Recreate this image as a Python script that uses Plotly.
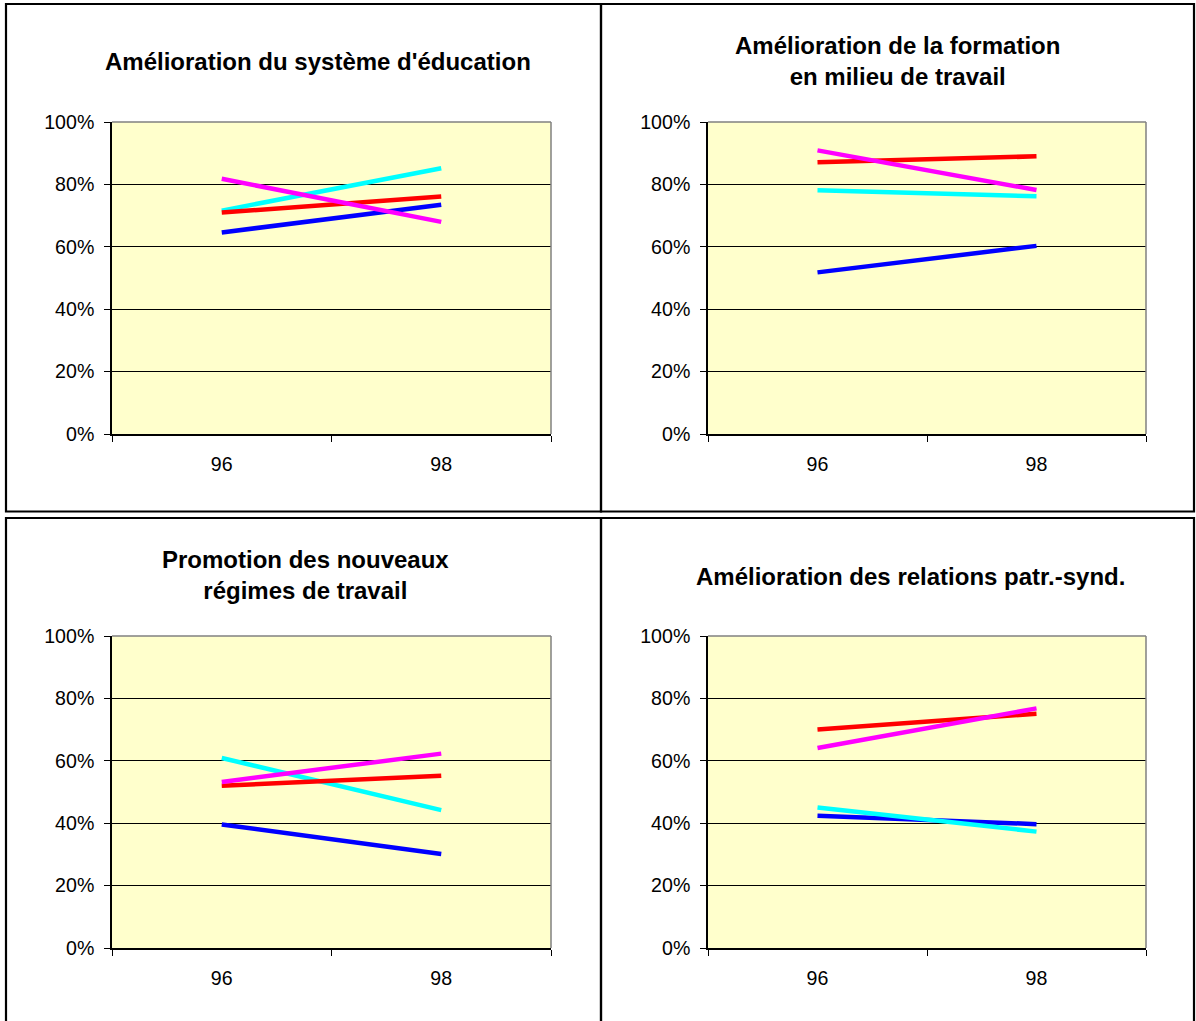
import plotly.graph_objects as go

W, H = 1196, 1021

years = ["96", "98"]

titles = [
    "Amélioration du système d'éducation",
    "Amélioration de la formation<br>en milieu de travail",
    "Promotion des nouveaux<br>régimes de travail",
    "Amélioration des relations patr.-synd.",
]

# series values per panel (fractions)
blue_vals = [[0.646, 0.735], [0.518, 0.603], [0.396, 0.301], [0.424, 0.397]]
cyan_vals = [[0.716, 0.852], [0.781, 0.762], [0.609, 0.442], [0.450, 0.373]]
red_vals = [[0.710, 0.761], [0.871, 0.890], [0.520, 0.552], [0.700, 0.751]]
magenta_vals = [[0.818, 0.680], [0.909, 0.782], [0.532, 0.623], [0.641, 0.768]]

series = [
    ("Série 1", "#0000FF", blue_vals),
    ("Série 2", "#00FFFF", cyan_vals),
    ("Série 3", "#FF0000", red_vals),
    ("Série 4", "#FF00FF", magenta_vals),
]

y_ticks = [0, 0.2, 0.4, 0.6, 0.8, 1.0]

# layout geometry in pixels
plot_x = [(112, 551), (708, 1146), (112, 551), (708, 1146)]
plot_y = [(122, 434), (122, 434), (636, 948), (636, 948)]
title_pos = [(318, 62), (897, 61), (305, 575), (910, 576)]


def px(x):
    return x / W


def py(y):
    return 1 - y / H


fig = go.Figure()

for i in range(4):
    sx = "" if i == 0 else str(i + 1)
    for name, color, vals in series:
        fig.add_trace(go.Scatter(
            x=years, y=vals[i], mode="lines", name=name,
            line=dict(color=color, width=4.5),
            xaxis="x" + sx, yaxis="y" + sx, showlegend=False,
        ))
    xd = [px(plot_x[i][0]), px(plot_x[i][1])]
    yd = [py(plot_y[i][1]), py(plot_y[i][0])]
    fig.layout["xaxis" + sx] = dict(
        domain=xd, anchor="y" + sx, type="category",
        categoryorder="array", categoryarray=years,
        range=[-0.5, 1.5], tickson="boundaries",
        ticks="outside", ticklen=6, tickcolor="black", tickwidth=1,
        showline=True, linecolor="black", linewidth=1.5,
        showgrid=False, zeroline=False, fixedrange=True, automargin=False,
        tickfont=dict(family="Liberation Sans, Arial", size=19.6, color="black"),
        ticklabelstandoff=12,
    )
    fig.layout["yaxis" + sx] = dict(
        domain=yd, anchor="x" + sx, range=[0, 1],
        tickvals=y_ticks, tickformat=".0%",
        ticks="outside", ticklen=6, tickcolor="black", tickwidth=1,
        showline=True, linecolor="black", linewidth=1.5,
        showgrid=True, gridcolor="black", gridwidth=1,
        zeroline=False, fixedrange=True, automargin=False,
        tickfont=dict(family="Liberation Sans, Arial", size=19.6, color="black"),
        ticklabelstandoff=6,
    )
    # gray top/right plot-area border
    fig.add_shape(type="line", xref="paper", yref="paper",
                  x0=xd[0], x1=xd[1], y0=yd[1], y1=yd[1],
                  line=dict(color="#808080", width=1.5), layer="above")
    fig.add_shape(type="line", xref="paper", yref="paper",
                  x0=xd[1], x1=xd[1], y0=yd[0], y1=yd[1],
                  line=dict(color="#808080", width=1.5), layer="above")
    fig.add_annotation(
        text="<b>" + titles[i] + "</b>", xref="paper", yref="paper",
        x=px(title_pos[i][0]), y=py(title_pos[i][1]),
        xanchor="center", yanchor="middle", showarrow=False,
        font=dict(family="Liberation Sans, Arial", size=24, color="black"),
    )

# panel frames
frames = [(6, 601, 4, 511.5), (601, 1194, 4, 511.5),
          (6, 601, 518, 1040), (601, 1194, 518, 1040)]
for x0, x1, y0, y1 in frames:
    fig.add_shape(type="rect", xref="paper", yref="paper",
                  x0=px(x0), x1=px(x1), y0=py(y1), y1=py(y0),
                  line=dict(color="black", width=2.2), layer="above")

fig.update_layout(
    width=W, height=H, autosize=False,
    margin=dict(l=0, r=0, t=0, b=0, pad=0, autoexpand=False),
    paper_bgcolor="white", plot_bgcolor="#FFFFCC",
    showlegend=False,
)

fig.write_html(
    "out.html",
    config={"responsive": False, "displayModeBar": False},
    post_script="document.body.style.margin='0';document.body.style.overflow='hidden';",
)
